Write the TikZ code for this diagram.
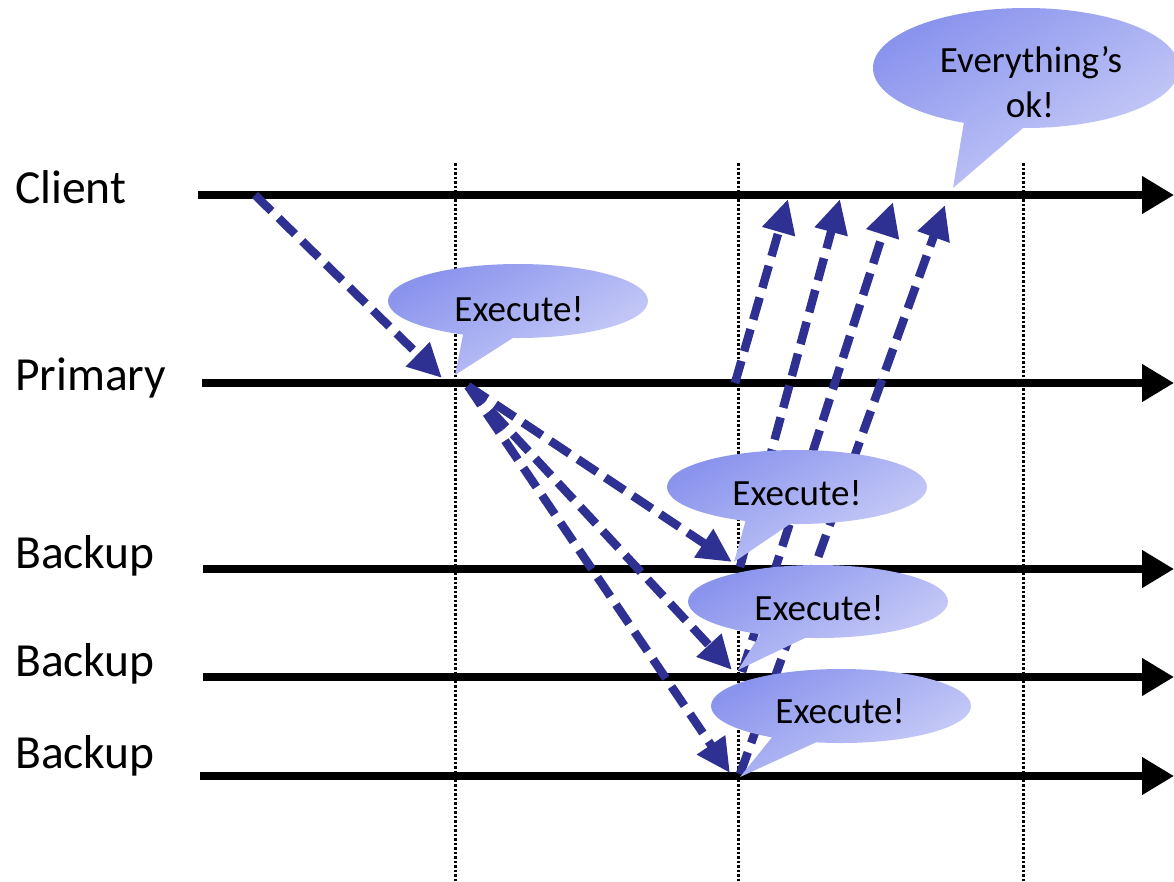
\documentclass[tikz,border=0pt]{standalone}
\usepackage{fontspec}
\setmainfont{Carlito}
\usetikzlibrary{arrows.meta}
\definecolor{navy}{RGB}{46,49,146}
\definecolor{bubdark}{RGB}{138,148,237}
\definecolor{bublight}{RGB}{206,209,248}
\begin{document}
\begin{tikzpicture}[x=1pt,y=1pt,
  timeline/.style={line width=7.5pt,-{Triangle[length=32pt,width=36pt]}},
  guide/.style={line width=3pt,dash pattern=on 2.5pt off 2pt},
  msg/.style={navy,line width=8.5pt,dash pattern=on 23pt off 10pt,-{Triangle[length=34pt,width=32pt]}},
  bubble/.style={left color=bubdark,right color=bublight,shading angle=30},
  lbl/.style={font=\fontsize{47.5}{56}\selectfont,anchor=base west,inner sep=0pt},
  btxt/.style={font=\fontsize{37}{44}\selectfont,anchor=base,inner sep=0pt},
]
\useasboundingbox (0,0) rectangle (1174,-881);

% guides
\foreach \gx/\gn in {455/ga,738/gb,1023/gc}{
  \coordinate (\gn t) at (\gx,-163);
  \coordinate (\gn b) at (\gx,-881);
  \draw[guide] (\gn t) -- (\gn b);
}

% timelines
\coordinate (cs) at (198,-195); \coordinate (ce) at (1174,-195);
\coordinate (ps) at (202,-383); \coordinate (pe) at (1174,-383);
\coordinate (b1s) at (203,-569); \coordinate (b1e) at (1174,-569);
\coordinate (b2s) at (203,-677); \coordinate (b2e) at (1174,-677);
\coordinate (b3s) at (200,-776); \coordinate (b3e) at (1174,-776);
\draw[timeline] (cs) -- (ce);
\draw[timeline] (ps) -- (pe);
\draw[timeline] (b1s) -- (b1e);
\draw[timeline] (b2s) -- (b2e);
\draw[timeline] (b3s) -- (b3e);

% labels
\node[lbl] (lclient) at (15,-203) {Client};
\node[lbl] (lprimary) at (15,-390) {Primary};
\node[lbl] (lbackupa) at (15,-568) {Backup};
\node[lbl] (lbackupb) at (15,-676) {Backup};
\node[lbl] (lbackupc) at (15,-768) {Backup};

% message endpoints
\coordinate (c0) at (255,-195);
\coordinate (p0) at (442,-378);
\coordinate (p1) at (468,-386);
\coordinate (b1in) at (732,-562);
\coordinate (b2in) at (732,-670);
\coordinate (b3in) at (730,-773);
\coordinate (prout) at (735,-383);
\coordinate (b1out) at (740,-567);
\coordinate (b2out) at (742,-672);
\coordinate (b3out) at (740,-774);
\coordinate (r1) at (788,-199);
\coordinate (r2) at (840,-199);
\coordinate (r3) at (893,-202);
\coordinate (r4) at (945,-205);

\draw[msg] (c0) -- (p0);
\draw[msg] (p1) -- (b1in);
\draw[msg] (p1) -- (b2in);
\draw[msg] (p1) -- (b3in);
\draw[msg] (prout) -- (r1);
\draw[msg] (b1out) -- (r2);
\draw[msg] (b2out) -- (r3);
\draw[msg] (b3out) -- (r4);

% speech bubbles
\shade[bubble] (518,-301) ellipse [x radius=130,y radius=37]
  (466,-320) -- (455,-375) -- (541,-320) -- cycle;
\shade[bubble] (797,-487) ellipse [x radius=130,y radius=37]
  (750,-505) -- (734,-562) -- (818,-505) -- cycle;
\shade[bubble] (818,-601.5) ellipse [x radius=130,y radius=36.5]
  (772,-615) -- (738,-670) -- (853,-615) -- cycle;
\shade[bubble] (841,-706) ellipse [x radius=130,y radius=37]
  (790,-715) -- (740,-777) -- (876,-715) -- cycle;
\shade[bubble] (1026,-68) ellipse [x radius=153,y radius=60]
  (966,-110) -- (953,-188) -- (1044,-110) -- cycle;

\node[btxt] (exa) at (519,-321) {Execute!};
\node[btxt] (exb) at (797,-505) {Execute!};
\node[btxt] (exc) at (819,-620) {Execute!};
\node[btxt] (exd) at (840,-723) {Execute!};
\node[btxt] (oka) at (1031,-72) {Everything’s};
\node[btxt] (okb) at (1030,-117) {ok!};
\end{tikzpicture}
\end{document}
